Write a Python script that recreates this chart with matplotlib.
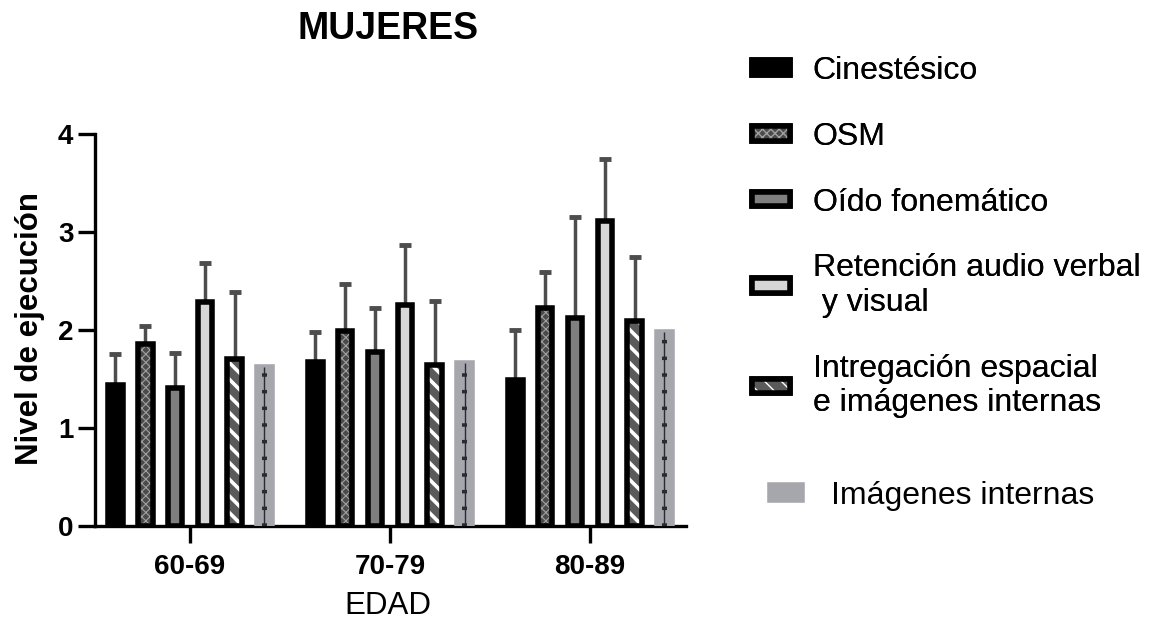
import matplotlib
matplotlib.use('Agg')
import matplotlib.pyplot as plt
import numpy as np
from matplotlib.patches import Patch
from matplotlib.legend_handler import HandlerTuple

plt.rcParams['font.family'] = ['Liberation Sans', 'DejaVu Sans']

groups = ['60-69', '70-79', '80-89']
series = ['Cinestésico', 'OSM', 'Oído fonemático',
          'Retención audio verbal\n y visual',
          'Intregación espacial\ne imágenes internas',
          'Imágenes internas']

cinestesico = [1.44, 1.67, 1.49]
osm = [1.86, 1.99, 2.22]
oido = [1.41, 1.78, 2.12]
retencion = [2.29, 2.26, 3.11]
integracion = [1.70, 1.64, 2.09]
imagenes = [1.62, 1.66, 1.98]

err_cinestesico = [0.32, 0.31, 0.51]
err_osm = [0.18, 0.48, 0.37]
err_oido = [0.36, 0.44, 1.03]
err_retencion = [0.39, 0.61, 0.63]
err_integracion = [0.69, 0.66, 0.65]

values = [cinestesico, osm, oido, retencion, integracion, imagenes]
errors = [err_cinestesico, err_osm, err_oido, err_retencion, err_integracion, None]

# fill, hatch, hatch colour, hatch width, outline colour
styles = [
    ('black', None, None, 1.0, 'black'),
    ('#4a4a4a', 'xxxx', '#a0a0a0', 0.8, 'black'),
    ('#7f7f7f', None, None, 1.0, 'black'),
    ('#d6d6d6', None, None, 1.0, 'black'),
    ('#5a5a5a', '\\\\', 'white', 2.6, 'black'),
    ('#a6a6ad', None, None, 1.0, '#a6a6ad'),
]

fig = plt.figure(figsize=(11.5, 6.24), dpi=100)
ax = fig.add_axes([95 / 1150, 1 - 526 / 624, 591 / 1150, 392 / 624])

x = np.arange(len(groups))
pitch = 0.149
width = 0.072
edge_lw = 4.0

handles = []
for i, (vals, errs, st) in enumerate(zip(values, errors, styles)):
    fc, hatch, hc, hlw, ec = st
    pos = x + (i - 2.5) * pitch
    if errs is not None:
        ax.errorbar(pos, vals, yerr=[np.zeros(len(vals)), errs], fmt='none',
                    ecolor='#4d4d4d', elinewidth=2.5, capsize=4, capthick=3.5, zorder=1)
    with plt.rc_context({'hatch.linewidth': hlw}):
        ax.bar(pos, vals, width, color=fc, edgecolor=hc if hatch else fc,
               hatch=hatch, linewidth=0, zorder=2)
    ax.bar(pos, vals, width, facecolor='none', edgecolor=ec,
           linewidth=edge_lw, zorder=3)
    with plt.rc_context({'hatch.linewidth': hlw}):
        hp = Patch(facecolor=fc, edgecolor=hc if hatch else fc, hatch=hatch, linewidth=0)
    ho = Patch(facecolor='none', edgecolor=ec, linewidth=edge_lw)
    if i == 5:
        with plt.rc_context({'hatch.linewidth': 2.5}):
            ax.bar(pos, vals, width * 0.35, facecolor='none', edgecolor='#2a2a35',
                   hatch='-', linewidth=0, zorder=4)
        ax.vlines(pos, 0, vals, color='#2a2a35', linewidth=1, zorder=4)
    handles.append((hp, ho))

ax.set_xlim(-0.475, 2.48)
ax.set_ylim(0, 4)
ax.set_yticks([0, 1, 2, 3, 4])
ax.set_xticks(x)
ax.set_xticklabels(groups)
for s in ['top', 'right']:
    ax.spines[s].set_visible(False)
for s in ['left', 'bottom']:
    ax.spines[s].set_linewidth(2.4)
ax.tick_params(axis='both', direction='out', length=12, width=2.4, labelsize=20)
ax.tick_params(axis='x', pad=8)
for lab in ax.get_xticklabels() + ax.get_yticklabels():
    lab.set_fontweight('bold')

ax.set_ylabel('Nivel de ejecución', fontsize=22.5, fontweight='bold')
ax.yaxis.set_label_coords(-0.085, 0.505)
ax.set_xlabel('EDAD', fontsize=22.5)
ax.xaxis.set_label_coords(0.496, -0.165)

fig.text(388 / 1150, 1 - 29 / 624, 'MUJERES', ha='center', va='center',
         fontsize=27, fontweight='bold')

leg1 = fig.legend(handles[:5], series[:5], loc='upper left',
                  bbox_to_anchor=(752 / 1150, 1 - 56 / 624), frameon=False,
                  fontsize=23, handlelength=1.2, handleheight=0.33,
                  handletextpad=0.7, labelspacing=1.12, borderpad=0, borderaxespad=0,
                  handler_map={tuple: HandlerTuple(ndivide=1)})
fig.legend(handles[5:], series[5:], loc='upper left',
           bbox_to_anchor=(770 / 1150, 1 - 481 / 624), frameon=False,
           fontsize=23, handlelength=1.0, handleheight=0.33,
           handletextpad=0.9, borderpad=0, borderaxespad=0,
           handler_map={tuple: HandlerTuple(ndivide=1)})
fig.add_artist(leg1)

fig.savefig('out.png', dpi=100)
